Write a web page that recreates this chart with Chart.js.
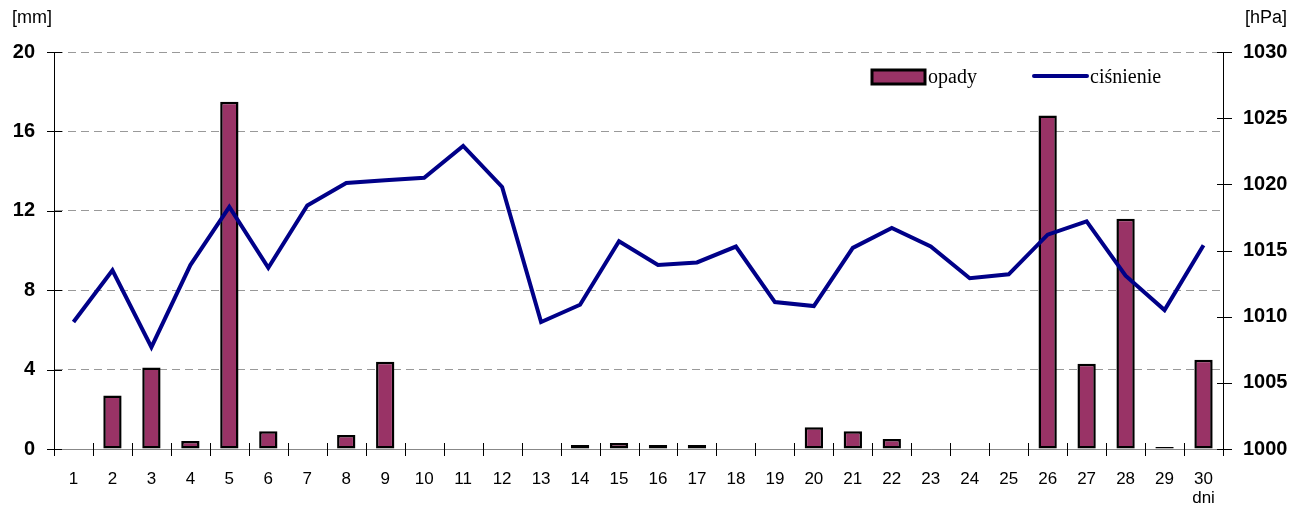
<!DOCTYPE html>
<html>
<head>
<meta charset="utf-8">
<script src="https://cdn.jsdelivr.net/npm/chart.js@4/dist/chart.umd.min.js"></script>
<style>
  html, body { margin: 0; padding: 0; background: #fff; }
  #wrap { width: 1315px; height: 515px; }
</style>
</head>
<body>
<div id="wrap"><canvas id="chart" width="1315" height="515"></canvas></div>
<script>
// days of the month
const days = ["1","2","3","4","5","6","7","8","9","10","11","12","13","14","15",
  "16","17","18","19","20","21","22","23","24","25","26","27","28","29","30"];
// opady [mm]
const opady = [0, 2.7, 4.1, 0.4, 17.5, 0.9, 0, 0.7, 4.4, 0, 0, 0, 0, 0.2, 0.3,
  0.2, 0.2, 0, 0, 1.1, 0.9, 0.5, 0, 0, 0, 16.8, 4.3, 11.6, 0.1, 4.5];
// ciśnienie [hPa]
const cisnienie = [1009.6, 1013.5, 1007.7, 1013.9, 1018.3, 1013.7, 1018.4, 1020.1, 1020.3, 1020.5,
  1022.9, 1019.8, 1009.6, 1010.9, 1015.7, 1013.9, 1014.1, 1015.3, 1011.1, 1010.8,
  1015.2, 1016.7, 1015.3, 1012.9, 1013.2, 1016.2, 1017.2, 1013.1, 1010.5, 1015.4];

const BAR = '#993366';
const LINE = '#000088';
const SANS = '"Liberation Sans", Arial, sans-serif';
const SERIF = '"Liberation Serif", "Times New Roman", serif';

// tick marks crossing the axes, unit labels, legend
const extras = {
  id: 'extras',
  afterDraw(chart) {
    const c = chart.ctx;
    const a = chart.chartArea;
    const x = chart.scales.x;
    const yl = chart.scales.y;
    const yr = chart.scales.y1;
    c.save();
    c.strokeStyle = '#000';
    c.lineWidth = 1;
    c.beginPath();
    const w = (a.right - a.left) / days.length;
    for (let i = 0; i <= days.length; i++) {
      const px = Math.round(a.left + i * w) + 0.5;
      c.moveTo(px, a.bottom - 6);
      c.lineTo(px, a.bottom + 7);
    }
    yl.ticks.forEach((t, i) => {
      const py = Math.round(yl.getPixelForTick(i)) + 0.5;
      c.moveTo(a.left - 7, py);
      c.lineTo(a.left + 8, py);
    });
    yr.ticks.forEach((t, i) => {
      const py = Math.round(yr.getPixelForTick(i)) + 0.5;
      c.moveTo(a.right - 6, py);
      c.lineTo(a.right + 9, py);
    });
    c.stroke();

    c.fillStyle = '#000';
    c.font = '18px ' + SANS;
    c.textBaseline = 'middle';
    c.textAlign = 'left';
    c.fillText('[mm]', 12, 18);
    c.fillText('[hPa]', 1245, 18);
    c.textAlign = 'center';
    c.font = '17px ' + SANS;
    c.fillText('dni', x.getPixelForValue(29), 498);

    // legend
    c.fillStyle = BAR;
    c.fillRect(872, 70, 53, 14);
    c.lineWidth = 3;
    c.strokeStyle = '#000';
    c.strokeRect(872, 70, 53, 14);
    c.fillStyle = '#000';
    c.font = '20px ' + SERIF;
    c.textAlign = 'left';
    c.fillText('opady', 928, 78);
    c.strokeStyle = LINE;
    c.lineWidth = 4;
    c.lineCap = 'round';
    c.beginPath();
    c.moveTo(1034, 76);
    c.lineTo(1087, 76);
    c.stroke();
    c.fillText('ciśnienie', 1090, 78);
    c.restore();
  }
};

new Chart(document.getElementById('chart'), {
  data: {
    labels: days,
    datasets: [
      {
        type: 'line',
        label: 'ciśnienie',
        data: cisnienie,
        yAxisID: 'y1',
        borderColor: LINE,
        borderWidth: 4,
        pointRadius: 0,
        tension: 0,
        order: 0
      },
      {
        type: 'bar',
        label: 'opady',
        data: opady,
        yAxisID: 'y',
        backgroundColor: BAR,
        borderColor: '#000',
        borderWidth: 2.5,
        borderSkipped: false,
        barPercentage: 0.47,
        categoryPercentage: 1,
        order: 1
      }
    ]
  },
  options: {
    responsive: false,
    animation: false,
    layout: { padding: { top: 52, left: 0, right: 0, bottom: 0 } },
    plugins: {
      legend: { display: false },
      tooltip: { enabled: false }
    },
    scales: {
      x: {
        offset: true,
        grid: { display: true, drawOnChartArea: false, drawTicks: false, offset: true },
        border: { color: '#888', width: 1 },
        ticks: { color: '#000', font: { family: SANS, size: 17 }, padding: 20, maxRotation: 0, autoSkip: false },
        afterFit(s) { s.height = 66; }
      },
      y: {
        position: 'left',
        min: 0,
        max: 20,
        ticks: { stepSize: 4, color: '#000', font: { family: SANS, size: 20, weight: 'bold' }, padding: 19 },
        grid: { color: '#999', drawTicks: false, lineWidth: 1 },
        border: { color: '#000', width: 1, dash: [8, 5] },
        afterFit(s) { s.width = 54; }
      },
      y1: {
        position: 'right',
        min: 1000,
        max: 1030,
        ticks: {
          stepSize: 5, color: '#000', font: { family: SANS, size: 20, weight: 'bold' }, padding: 20,
          callback: v => String(v)
        },
        grid: { drawOnChartArea: false, drawTicks: false },
        border: { color: '#000', width: 1 },
        afterFit(s) { s.width = 92; }
      }
    }
  },
  plugins: [extras]
});
</script>
</body>
</html>
